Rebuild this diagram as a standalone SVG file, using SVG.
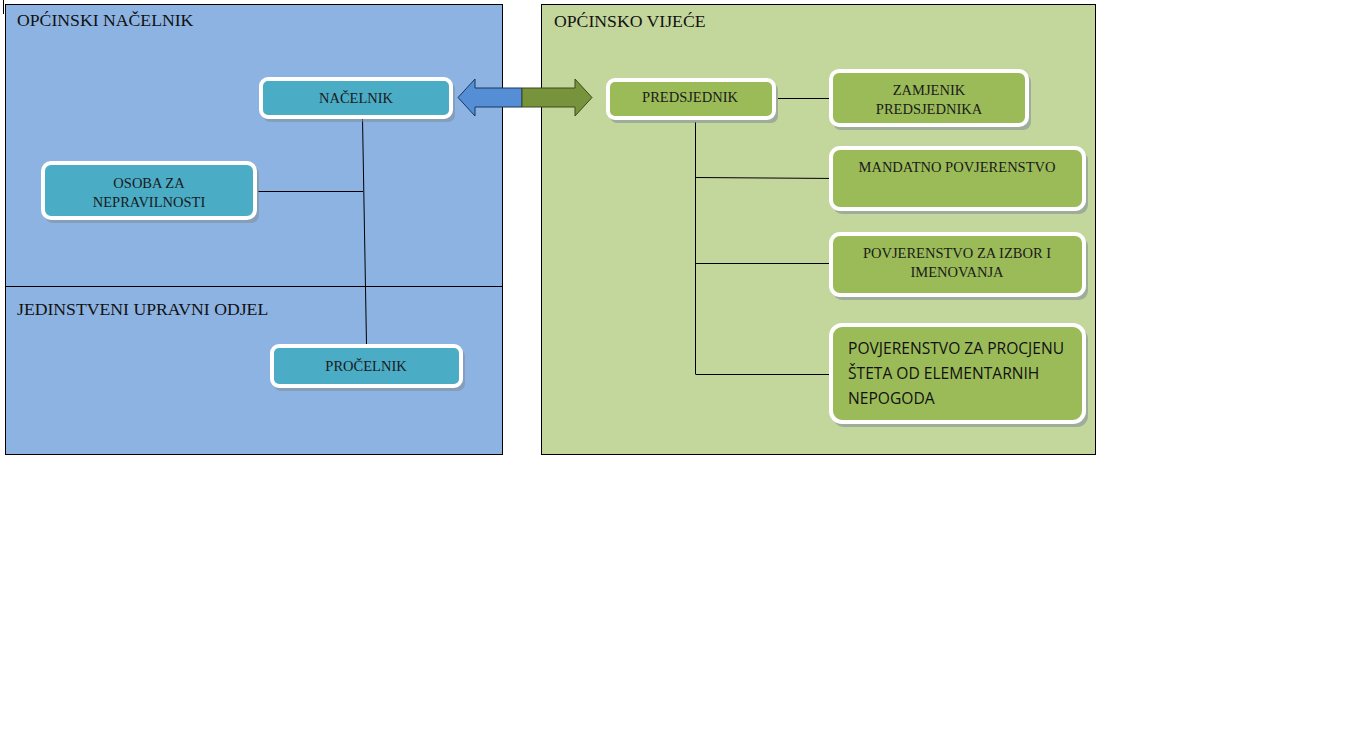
<svg xmlns="http://www.w3.org/2000/svg" width="1366" height="736" viewBox="0 0 1366 736">
<defs>
<style>
.panel{stroke:#000;stroke-width:1}
.box{stroke:#fff;stroke-width:4}
.teal{fill:#4BACC6}
.green{fill:#9BBB59}
.shadow{fill:#7f8c99;opacity:0.55}
.t{font-family:"Liberation Serif","Times New Roman",serif;font-size:14.5px;fill:#1a1a1a;text-anchor:middle}
.title{font-family:"Liberation Serif","Times New Roman",serif;font-size:17.7px;fill:#111}
.s{font-family:"Open Sans","Noto Sans","Liberation Sans",sans-serif;font-size:15.6px;fill:#111}
.c{stroke:#000;stroke-width:1;fill:none}
</style>
</defs>
<rect width="1366" height="736" fill="#fff"/>
<g id="panel-nacelnik">
<rect class="panel" x="5.5" y="4.5" width="497" height="450" fill="#8DB3E2"/>
<line class="c" x1="5.5" y1="286.5" x2="502.5" y2="286.5"/>
<line class="c" x1="3.5" y1="0" x2="3.5" y2="14"/>
<text class="title" x="17" y="26">OPĆINSKI NAČELNIK</text>
<text class="title" x="17" y="315">JEDINSTVENI UPRAVNI ODJEL</text>
</g>
<g id="panel-vijece">
<rect class="panel" x="541.5" y="4.5" width="554" height="450" fill="#C3D69B"/>
<text class="title" x="554" y="27">OPĆINSKO VIJEĆE</text>
</g>
<g id="connectors">
<line class="c" x1="362.5" y1="118" x2="366.5" y2="345"/>
<line class="c" x1="258" y1="191.5" x2="363" y2="191.5"/>
<line class="c" x1="695.5" y1="122" x2="695.5" y2="374"/>
<line class="c" x1="778" y1="98.5" x2="832" y2="98.5"/>
<line class="c" x1="695.5" y1="177.5" x2="838" y2="178.5"/>
<line class="c" x1="695.5" y1="263.5" x2="832" y2="263.5"/>
<line class="c" x1="695.5" y1="374.5" x2="832" y2="374.5"/>
</g>
<g id="arrow">
<path d="M458,97.5 L475,79 L475,88 L522,88 L522,107 L475,107 L475,116 Z" fill="#558ED5" stroke="#17375E" stroke-width="1"/>
<path d="M592,97.5 L575,79 L575,88 L522,88 L522,107 L575,107 L575,116 Z" fill="#77933C" stroke="#3B4A1E" stroke-width="1"/>
</g>
<g id="n-nacelnik">
<rect class="shadow" x="263" y="82" width="192" height="40" rx="7"/>
<rect class="box teal" x="261" y="79" width="190" height="38" rx="7"/>
<text class="t" x="356" y="103">NAČELNIK</text>
</g>
<g id="n-osoba">
<rect class="shadow" x="45" y="166" width="214" height="57" rx="8"/>
<rect class="box teal" x="43" y="163" width="212" height="55" rx="8"/>
<text class="t" x="149" y="188">OSOBA ZA</text>
<text class="t" x="149" y="207">NEPRAVILNOSTI</text>
</g>
<g id="n-procelnik">
<rect class="shadow" x="274" y="349" width="191" height="42" rx="7"/>
<rect class="box teal" x="272" y="346" width="189" height="40" rx="7"/>
<text class="t" x="366" y="371">PROČELNIK</text>
</g>
<g id="n-predsjednik">
<rect class="shadow" x="610" y="83" width="168" height="40" rx="7"/>
<rect class="box green" x="608" y="80" width="166" height="38" rx="7"/>
<text class="t" x="690" y="102">PREDSJEDNIK</text>
</g>
<g id="n-zamjenik">
<rect class="shadow" x="833" y="74" width="198" height="56" rx="8"/>
<rect class="box green" x="831" y="71" width="196" height="54" rx="8"/>
<text class="t" x="929" y="95">ZAMJENIK</text>
<text class="t" x="929" y="114">PREDSJEDNIKA</text>
</g>
<g id="n-mandatno">
<rect class="shadow" x="833" y="151" width="255" height="63" rx="9"/>
<rect class="box green" x="831" y="148" width="253" height="61" rx="9"/>
<text class="t" x="957" y="172">MANDATNO POVJERENSTVO</text>
</g>
<g id="n-izbor">
<rect class="shadow" x="833" y="237" width="255" height="63" rx="9"/>
<rect class="box green" x="831" y="234" width="253" height="61" rx="9"/>
<text class="t" x="957" y="258">POVJERENSTVO ZA IZBOR I</text>
<text class="t" x="957" y="277">IMENOVANJA</text>
</g>
<g id="n-procjena">
<rect class="shadow" x="833" y="328" width="255" height="99" rx="11"/>
<rect class="box green" x="831" y="325" width="253" height="97" rx="11"/>
<text class="s" x="848" y="354">POVJERENSTVO ZA PROCJENU</text>
<text class="s" x="848" y="379">ŠTETA OD ELEMENTARNIH</text>
<text class="s" x="848" y="404">NEPOGODA</text>
</g>
</svg>
